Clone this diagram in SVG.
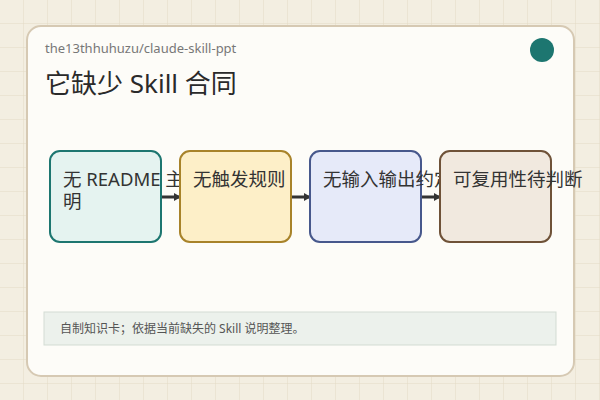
<svg xmlns="http://www.w3.org/2000/svg" width="600" height="400" viewBox="0 0 600 400">
<defs>
<pattern id="grid" width="24" height="24" patternUnits="userSpaceOnUse">
<rect width="24" height="24" fill="#f3eee1"/>
<path d="M24 0V24M0 24H24" stroke="#e3dac6" stroke-width="1" fill="none"/>
</pattern>
<marker id="ah" markerWidth="8" markerHeight="8" refX="6" refY="4" orient="auto" markerUnits="userSpaceOnUse">
<path d="M0 0L7 4L0 8Z" fill="#333"/>
</marker>
<style>
text{font-family:"Noto Sans","Noto Sans CJK SC",sans-serif}
.n{font-size:18.5px;fill:#333}
.b{stroke-width:2}
</style>
</defs>
<rect width="600" height="400" fill="url(#grid)"/>
<rect x="27" y="26" width="547" height="350" rx="14" fill="#fdfcf8" stroke="#d6c9b3" stroke-width="2"/>
<text x="45" y="53" font-size="13" fill="#777">the13thhuhuzu/claude-skill-ppt</text>
<text x="45" y="93" font-size="26" fill="#2a2a2a">它缺少 Skill 合同</text>
<circle cx="542" cy="50" r="12" fill="#1d7670"/>
<g id="connectors" stroke="#333" stroke-width="3" marker-end="url(#ah)">
<line x1="162" y1="197" x2="180" y2="197"/>
<line x1="292" y1="197" x2="310" y2="197"/>
<line x1="422" y1="197" x2="440" y2="197"/>
</g>
<g id="n1"><rect class="b" x="50" y="151" width="111" height="91" rx="10" fill="#e5f3f0" stroke="#1d7670"/>
<text class="n" x="63" y="186">无 README 主说</text><text class="n" x="63" y="208">明</text></g>
<g id="n2"><rect class="b" x="180" y="151" width="111" height="91" rx="10" fill="#fdefc8" stroke="#a8832a"/>
<text class="n" x="193" y="186">无触发规则</text></g>
<g id="n3"><rect class="b" x="310" y="151" width="111" height="91" rx="10" fill="#e6eaf9" stroke="#47588c"/>
<text class="n" x="323" y="186">无输入输出约定</text></g>
<g id="n4"><rect class="b" x="440" y="151" width="111" height="91" rx="10" fill="#f1e9df" stroke="#6f5238"/>
<text class="n" x="453" y="186">可复用性待判断</text></g>
<rect x="44" y="312" width="512" height="33" fill="#ecf1ec" stroke="#d3dbd3"/>
<text x="60" y="333" font-size="12" fill="#555">自制知识卡；依据当前缺失的 Skill 说明整理。</text>
</svg>
